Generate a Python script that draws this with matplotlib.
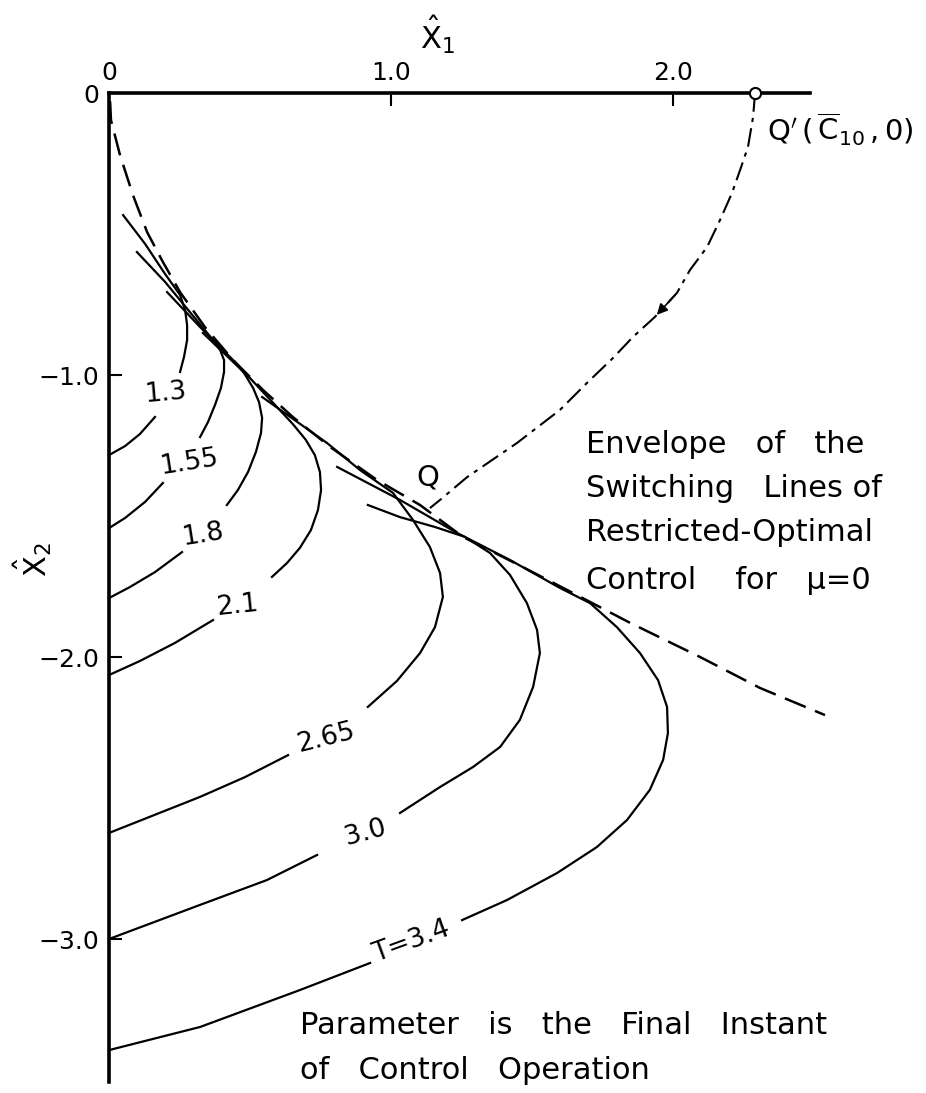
import numpy as np
import matplotlib
matplotlib.use('Agg')
import matplotlib.pyplot as plt

plt.rcParams['font.family'] = ['DejaVu Sans']
plt.rcParams['mathtext.fontset'] = 'dejavusans'

nan = np.nan

# switching lines, parameter T = final instant (nan = gap for the label)
c13_x = [0, 0.057, 0.110, 0.163, nan, 0.252, 0.266, 0.277, 0.277, 0.270, 0.252, 0.199, 0.128, 0.050]
c13_y = [-1.284, -1.252, -1.209, -1.149, nan, -0.989, -0.936, -0.876, -0.823, -0.770, -0.716, -0.642, -0.535, -0.433]
c155_x = [0, 0.057, 0.128, 0.191, nan, 0.323, 0.351, 0.376, 0.397, 0.408, 0.408, 0.394, 0.369, 0.287, 0.199, 0.099]
c155_y = [-1.543, -1.507, -1.450, -1.383, nan, -1.220, -1.167, -1.106, -1.046, -0.989, -0.947, -0.911, -0.876, -0.777, -0.670, -0.564]
c18_x = [0, 0.074, 0.163, 0.259, nan, 0.418, 0.457, 0.493, 0.521, 0.539, 0.543, 0.532, 0.511, 0.479, 0.447, 0.323, 0.206]
c18_y = [-1.791, -1.752, -1.699, -1.628, nan, -1.461, -1.408, -1.344, -1.273, -1.206, -1.152, -1.096, -1.046, -0.993, -0.954, -0.830, -0.706]
c21_x = [0, 0.110, 0.234, 0.369, nan, 0.578, 0.631, 0.677, 0.716, 0.741, 0.752, 0.748, 0.730, 0.698, 0.652, 0.500, 0.333]
c21_y = [-2.064, -2.014, -1.950, -1.869, nan, -1.716, -1.667, -1.613, -1.550, -1.479, -1.408, -1.344, -1.284, -1.230, -1.174, -1.011, -0.851]
c265_x = [0, 0.323, 0.482, 0.635, nan, 0.918, 1.021, 1.103, 1.156, 1.184, 1.174, 1.138, 1.078, 1.007, 0.890, 0.773, 0.543]
c265_y = [-2.624, -2.496, -2.426, -2.348, nan, -2.177, -2.085, -1.986, -1.894, -1.787, -1.702, -1.610, -1.514, -1.418, -1.337, -1.241, -1.078]
c30_x = [0, 0.323, 0.560, 0.738, nan, 1.032, 1.174, 1.291, 1.387, 1.457, 1.504, 1.528, 1.518, 1.482, 1.422,
         1.351, 1.262, 1.156, 1.032, 0.918]
c30_y = [-3.000, -2.879, -2.791, -2.702, nan, -2.553, -2.461, -2.390, -2.319, -2.223, -2.106, -1.986, -1.904, -1.809, -1.709,
         -1.631, -1.574, -1.539, -1.504, -1.461]
c34_x = [0, 0.323, 0.677, 0.926, nan, 1.252, 1.411, 1.589, 1.730, 1.837, 1.918, 1.965, 1.982, 1.979, 1.947, 1.883,
         1.801, 1.706, 1.599, 1.422, 1.234, 1.032, 0.809]
c34_y = [-3.394, -3.312, -3.181, -3.085, nan, -2.933, -2.862, -2.766, -2.674, -2.578, -2.471, -2.365, -2.270, -2.177, -2.082, -1.986,
         -1.894, -1.809, -1.755, -1.656, -1.560, -1.443, -1.326]

curves_x = [c13_x, c155_x, c18_x, c21_x, c265_x, c30_x, c34_x]
curves_y = [c13_y, c155_y, c18_y, c21_y, c265_y, c30_y, c34_y]
t_labels = ['1.3', '1.55', '1.8', '2.1', '2.65', '3.0', 'T=3.4']
lab_x = [0.199, 0.284, 0.333, 0.454, 0.770, 0.908, 1.074]
lab_y = [-1.064, -1.312, -1.567, -1.819, -2.287, -2.624, -3.011]
lab_rot = [5, 9, 9, 6, 14, 15, 20]

# envelope of switching lines (mu = 0)
env_x = [0.004, 0.007, 0.039, 0.085, 0.135, 0.191, 0.252, 0.340, 0.440, 0.546, 0.652,
         0.784, 0.950, 1.103, 1.255, 1.440, 1.624, 1.848, 2.096, 2.309, 2.539]
env_y = [-0.03, -0.096, -0.220, -0.362, -0.493, -0.599, -0.706, -0.830, -0.947, -1.053, -1.149,
         -1.255, -1.372, -1.461, -1.574, -1.667, -1.762, -1.879, -2.000, -2.110, -2.206]

# trajectory Q' -> Q
traj_x = [2.291, 2.284, 2.266, 2.238, 2.209, 2.167, 2.121, 2.060, 2.014, 1.936, 1.858, 1.787,
          1.695, 1.599, 1.447, 1.270, 1.174, 1.138]
traj_y = [0.0, -0.085, -0.191, -0.273, -0.355, -0.450, -0.546, -0.628, -0.709, -0.794, -0.865, -0.940,
          -1.028, -1.124, -1.241, -1.362, -1.443, -1.472]

fig = plt.figure(figsize=(9.26, 10.93), dpi=100)
ax = fig.add_axes([0, 0, 1, 1])
ax.set_xlim(-0.3865, 2.8972)
ax.set_ylim(-3.5461, 0.3298)

ax.plot(env_x, env_y, color='k', lw=1.8, dashes=(9, 4))
for xs, ys in zip(curves_x, curves_y):
    ax.plot(xs, ys, color='k', lw=1.6, solid_joinstyle='round')
for s, x, y, r in zip(t_labels, lab_x, lab_y, lab_rot):
    ax.text(x, y, s, fontsize=19, rotation=r, ha='center', va='center')

ax.plot(traj_x, traj_y, color='k', lw=1.5, dashes=(9, 3, 2, 3))
ax.annotate('', xy=(traj_x[9], traj_y[9]), xytext=(traj_x[8], traj_y[8]),
            arrowprops=dict(arrowstyle='-|>', color='k', lw=1.2, mutation_scale=16))
ax.plot(traj_x[0], traj_y[0], 'o', mfc='white', mec='k', ms=8, mew=1.5, zorder=5, clip_on=False)

ax.text(2.333, -0.131, r"$\mathrm{Q}'\,(\,\overline{\mathrm{C}}_{10}\,,0)$", fontsize=21, va='center')
ax.text(1.131, -1.365, 'Q', fontsize=21, ha='center', va='center')

env_txt = ['Envelope   of   the', 'Switching   Lines of', 'Restricted-Optimal', 'Control    for   μ=0']
env_ty = [-1.248, -1.404, -1.557, -1.727]
for s, y in zip(env_txt, env_ty):
    ax.text(1.69, y, s, fontsize=22, va='center')
ax.text(0.677, -3.305, 'Parameter   is   the   Final   Instant', fontsize=22, va='center')
ax.text(0.677, -3.465, 'of   Control   Operation', fontsize=22, va='center')

ax.text(1.163, 0.206, r'$\hat{\mathrm{X}}_{1}$', fontsize=22, ha='center', va='center')
ax.text(-0.27, -1.656, r'$\hat{\mathrm{X}}_{2}$', fontsize=22, rotation=90, ha='center', va='center')

# axes: top and left spines through the origin
for side in ['right', 'bottom']:
    ax.spines[side].set_visible(False)
ax.spines['top'].set_position(('data', 0))
ax.spines['left'].set_position(('data', 0))
ax.spines['top'].set_bounds(0, 2.486)
ax.spines['left'].set_bounds(-3.507, 0)
ax.spines['top'].set_linewidth(2.6)
ax.spines['left'].set_linewidth(2.6)
ax.xaxis.set_ticks_position('top')
ax.yaxis.set_ticks_position('left')
ax.set_xticks([0, 1, 2])
ax.set_xticklabels(['0', '1.0', '2.0'])
ax.set_yticks([0, -1, -2, -3])
ax.set_yticklabels(['0', '−1.0', '−2.0', '−3.0'])
ax.tick_params(axis='x', direction='in', length=9, width=1.5, pad=6, labelsize=18)
ax.tick_params(axis='y', direction='in', length=9, width=1.5, pad=7, labelsize=18)

fig.savefig('out.png', dpi=100)
